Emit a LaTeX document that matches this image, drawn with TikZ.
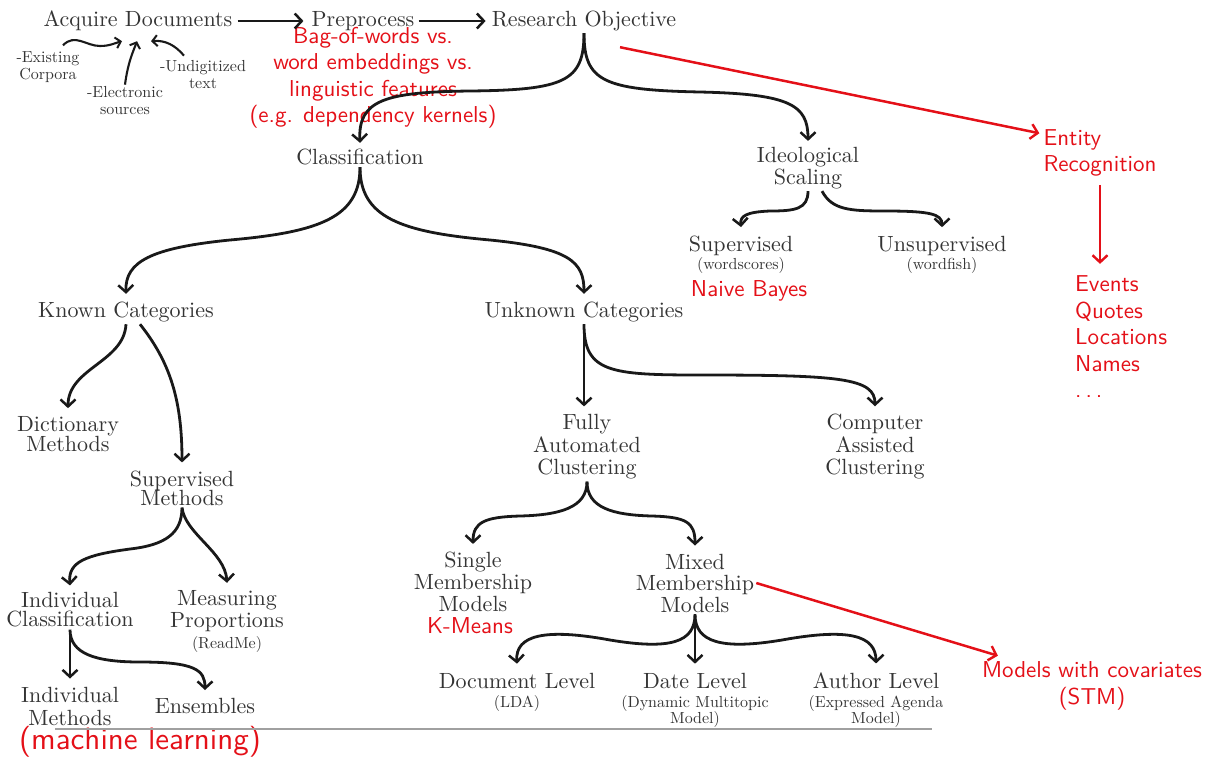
\documentclass[tikz,border=0pt]{standalone}
\usepackage{fontspec}
\setmainfont{lmroman10-regular.otf}
\setsansfont{lmsans10-regular.otf}
\usetikzlibrary{arrows.meta}
\definecolor{tg}{RGB}{52,52,52}
\definecolor{rd}{RGB}{228,16,24}
\definecolor{ln}{RGB}{160,160,160}
\definecolor{ak}{RGB}{25,25,25}
\newcommand\smf{\fontsize{16}{17}\selectfont}
\begin{document}
\begin{tikzpicture}[x=1pt,y=-1pt,
  t/.style={text=tg,font=\fontsize{22}{23}\selectfont,align=center,inner sep=2pt},
  s/.style={text=tg,font=\fontsize{16}{17}\selectfont,align=center,inner sep=2pt},
  r/.style={text=rd,font=\sffamily\fontsize{23}{26.5}\selectfont,align=center,inner sep=2pt},
  arr/.style={draw=ak,line width=2.8pt,-{Straight Barb[length=7pt,width=15pt,line width=2.5pt]}},
  sarr/.style={draw=ak,line width=2.1pt,-{Straight Barb[length=5pt,width=11pt,line width=2pt]}},
  rarr/.style={draw=rd,line width=2.5pt,-{Straight Barb[length=7pt,width=15pt,line width=2.4pt]}},
  rule/.style={draw=ln,line width=1.4pt}]
\useasboundingbox (0,0) rectangle (1222,766);

% top row
\node[t] (acq) at (138,21) {Acquire Documents};
\node[t] (pre) at (363,21) {Preprocess};
\node[t] (ro) at (584,21) {Research Objective};
\node[s] (exist) at (48,67) {-Existing\\Corpora};
\node[s] (elec) at (125,101) {-Electronic\\sources};
\node[s] (undig) at (203,75) {-Undigitized\\text};
\node[r] (bag) at (373,78) {Bag-of-words vs.\\word embeddings vs.\\linguistic features\\(e.g. dependency kernels)};

\draw[arr] ([shift={(3,0)}]acq.east) -- ([shift={(-6,0)}]pre.west);
\draw[arr] ([shift={(2,0)}]pre.east) -- ([shift={(-4,0)}]ro.west);
\draw[sarr] ([shift={(15,-4)}]exist.north) .. controls (75,33) and (86,46) .. (100,46) .. controls (110,46) and (115,43) .. ([shift={(-16,8)}]acq.south);
\draw[sarr] (elec.north) .. controls (128,62) and (133,52) .. ([shift={(-1,8)}]acq.south);
\draw[sarr] ([shift={(-19,-3)}]undig.north) .. controls (175,45) and (165,40) .. ([shift={(13,8)}]acq.south);

% research objective branches
\node[t] (cls) at (360,157) {Classification};
\node[t] (ideo) at (808,168) {Ideological\\[-1pt]Scaling};
\node[r,align=left] (ent) at (1100,153) {Entity\\Recognition};
\node[r,align=left,anchor=west] (evts) at (1073,337) {Events\\Quotes\\Locations\\Names\\.\kern4pt.\kern4pt.};

\draw[arr] (ro.south) .. controls +(0,48) and (565,90) .. (470,91) .. controls (385,92) and (358,100) .. ([shift={(0,-4)}]cls.north);
\draw[arr] (ro.south) .. controls +(0,48) and (603,90) .. (700,92) .. controls (790,94) and (808,105) .. ([shift={(0,-4)}]ideo.north);
\draw[rarr] ([shift={(36,14)}]ro.south) -- ([shift={(-2,6)}]ent.north west);
\draw[rarr] ([shift={(0,6)}]ent.south) -- ([shift={(0,-10)}]ent.south |- evts.north);

% ideological scaling
\node[t] (sup) at (741,255) {Supervised\\[-5pt]{\smf(wordscores)}};
\node[t] (unsup) at (942,255) {Unsupervised\\[-5pt]{\smf(wordfish)}};
\node[r] (nb) at (749,291) {Naive Bayes};
\draw[arr] (ideo.south) .. controls +(0,18) and (795,211) .. (770,211) .. controls (746,212) and (740,216) .. ([shift={(0,-7)}]sup.north);
\draw[arr] ([shift={(14,0)}]ideo.south) .. controls (832,210) and (850,211) .. (885,211) .. controls (930,211) and (942,214) .. ([shift={(0,-7)}]unsup.north);

% classification
\node[t] (known) at (126,312) {Known Categories};
\node[t] (unk) at (584,312) {Unknown Categories};
\draw[arr] (cls.south) .. controls +(0,50) and (320,232) .. (230,240) .. controls (150,248) and (125,262) .. ([shift={(0,-6)}]known.north);
\draw[arr] (cls.south) .. controls +(0,50) and (400,232) .. (490,240) .. controls (570,248) and (584,262) .. ([shift={(0,-6)}]unk.north);

% known categories
\node[t] (dict) at (68,434) {Dictionary\\[-3pt]Methods};
\node[t] (supm) at (182,488) {Supervised\\[-4pt]Methods};
\draw[arr] (known.south) .. controls +(-2,38) and (68,368) .. ([shift={(0,-6)}]dict.north);
\draw[arr] ([shift={(14,0)}]known.south) .. controls (170,362) and (182,400) .. ([shift={(0,-6)}]supm.north);

\node[t] (indc) at (70,610) {Individual\\[-4pt]Classification};
\node[t] (meas) at (227,621) {Measuring\\[-1pt]Proportions\\[-2pt]{\smf(ReadMe)}};
\draw[arr] (supm.south) .. controls +(0,26) and (165,545) .. (130,549) .. controls (85,555) and (68,562) .. ([shift={(0,-5)}]indc.north);
\draw[arr] (supm.south) .. controls +(3,26) and (225,552) .. ([shift={(0,-5)}]meas.north);

\node[t] (indm) at (70,706) {Individual\\Methods};
\node[t] (ens) at (205,706) {Ensembles};
\node[r,font=\sffamily\fontsize{31}{34}\selectfont] (ml) at (140,742) {(machine learning)};
\draw[arr] (indc.south) -- ([shift={(0,-6)}]indc.south |- indm.north);
\draw[arr] (indc.south) .. controls +(0,24) and (95,662) .. (140,662) .. controls (195,662) and (205,670) .. ([shift={(0,-6)}]ens.north);

% unknown categories
\node[t] (fully) at (587,447) {Fully\\Automated\\[-1pt]Clustering};
\node[t] (comp) at (875,447) {Computer\\Assisted\\[-1pt]Clustering};
\draw[arr] (unk.south) -- ([shift={(0,-6)}]unk.south |- fully.north);
\draw[arr] (unk.south) .. controls +(0,48) and (610,375) .. (700,375) .. controls (840,375) and (875,378) .. ([shift={(0,-6)}]comp.north);

\node[t] (single) at (473,582) {Single\\[-1pt]Membership\\[-1pt]Models};
\node[r] (km) at (470,626) {K-Means};
\node[t] (mixed) at (695,583) {Mixed\\[-2pt]Membership\\[-1pt]Models};
\draw[arr] (fully.south) .. controls +(0,26) and (560,515) .. (520,516) .. controls (485,517) and (473,522) .. ([shift={(0,-6)}]single.north);
\draw[arr] (fully.south) .. controls +(0,26) and (612,515) .. (652,516) .. controls (686,517) and (695,522) .. ([shift={(0,-6)}]mixed.north);

\node[r] (cov) at (1092,686) {Models with covariates\\(STM)};
\draw[rarr] (mixed.east) -- ([shift={(18,-4)}]cov.north west);

\node[t] (doc) at (517,692) {Document Level\\[-4pt]{\smf(LDA)}};
\node[t] (date) at (695,700) {Date Level\\[-4pt]{\smf(Dynamic Multitopic}\\[-7pt]{\smf Model)}};
\node[t] (auth) at (876,700) {Author Level\\[-4pt]{\smf(Expressed Agenda}\\[-7pt]{\smf Model)}};
\draw[arr] (mixed.south) .. controls +(0,28) and (670,650) .. (610,640) .. controls (545,628) and (515,635) .. ([shift={(0,-7)}]doc.north);
\draw[arr] (mixed.south) .. controls +(0,28) and (722,650) .. (782,640) .. controls (848,628) and (876,635) .. ([shift={(0,-7)}]auth.north);
\draw[arr] (mixed.south) -- ([shift={(0,-7)}]date.north);

% rule
\coordinate (rl) at (55,729);
\coordinate (rr) at (932,729);
\draw[rule] (rl) -- (rr);
\end{tikzpicture}
\end{document}
